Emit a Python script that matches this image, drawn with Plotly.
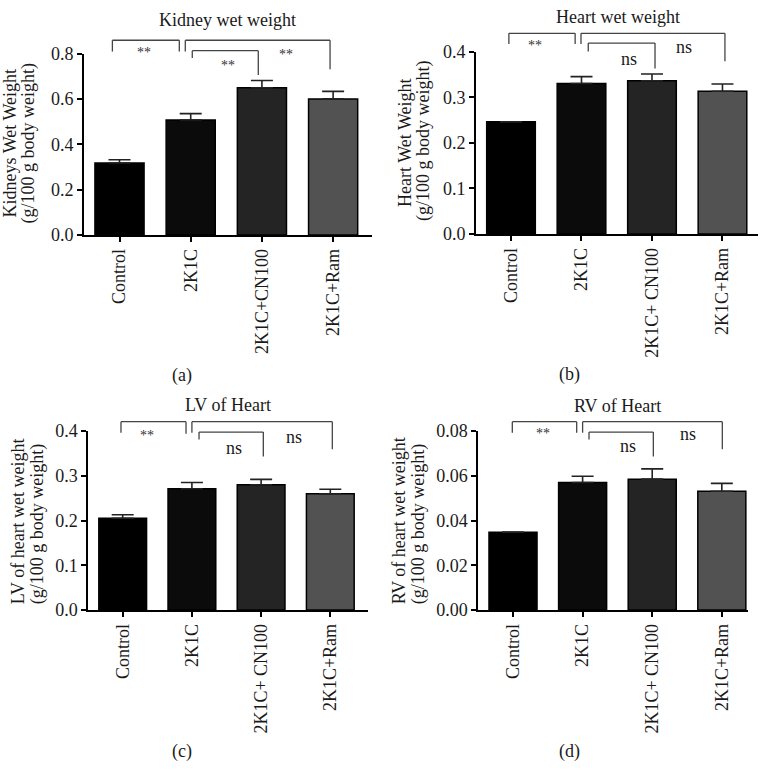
import plotly.graph_objects as go

# ---------------- data ----------------
categories_a = ["Control", "2K1C", "2K1C+CN100", "2K1C+Ram"]
categories_bcd = ["Control", "2K1C", "2K1C+ CN100", "2K1C+Ram"]

kidney_mean = [0.318, 0.508, 0.650, 0.601]
kidney_err = [0.014, 0.028, 0.032, 0.033]

heart_mean = [0.246, 0.330, 0.336, 0.313]
heart_err = [0.0, 0.015, 0.015, 0.016]

lv_mean = [0.205, 0.271, 0.280, 0.260]
lv_err = [0.008, 0.014, 0.012, 0.010]

rv_mean = [0.0348, 0.0570, 0.0585, 0.0531]
rv_err = [0.0, 0.0028, 0.0046, 0.0035]

bar_colors = ["#000000", "#0b0b0b", "#242424", "#525252"]

panel_titles = ["Kidney wet weight", "Heart wet weight", "LV of Heart", "RV of Heart"]
y_titles = [
    ["Kidneys Wet Weight", "(g/100 g body weight)"],
    ["Heart Wet Weight", "(g/100 g body weight)"],
    ["LV of heart wet weight", "(g/100 g body weight)"],
    ["RV of heart wet weight", "(g/100 g body weight)"],
]
panel_letters = ["(a)", "(b)", "(c)", "(d)"]
sig_labels = [["**", "**", "**"], ["**", "ns", "ns"], ["**", "ns", "ns"], ["**", "ns", "ns"]]

# ---------------- layout helpers ----------------
W, H = 760, 770
FONT = "Liberation Serif"
FS = 18
TXT = "#1a1a1a"

panels = [
    dict(cats=categories_a, mean=kidney_mean, err=kidney_err,
         xdom=(83.9, 372.0), ydom=(231.0, 45.0), xr=(-0.5, 3.546), yr=(0, 0.8), dtick=0.2, fmt=".1f",
         title=(227.7, 10.7), ytitle=((10, 137), (28, 137)), letter=(182, 375),
         brackets=[(-0.10, 0.84, 0.860, 0.810, 0.810), (0.924, 2.957, 0.860, 0.810, 0.732),
                   (1.022, 1.949, 0.814, 0.782, 0.706)],
         lab_pos=[(0.344, 0.821), (1.52, 0.762), (2.334, 0.810)]),
    dict(cats=categories_bcd, mean=heart_mean, err=heart_err,
         xdom=(475.75, 758.0), ydom=(230.0, 42.7), xr=(-0.5, 3.504), yr=(0, 0.4), dtick=0.1, fmt=".1f",
         title=(617.6, 7.3), ytitle=((405.5, 137), (423.5, 135)), letter=(569, 374),
         brackets=[(-0.03, 0.91, 0.440, 0.4164, 0.4164), (0.993, 3.035, 0.440, 0.4164, 0.3786),
                   (1.096, 2.043, 0.4186, 0.400, 0.363)],
         lab_pos=[(0.34, 0.421), (1.674, 0.384), (2.454, 0.410)]),
    dict(cats=categories_bcd, mean=lv_mean, err=lv_err,
         xdom=(88.1, 368.3), ydom=(616.0, 432.3), xr=(-0.5, 3.549), yr=(0, 0.4), dtick=0.1, fmt=".1f",
         title=(227.6, 406), ytitle=((18, 525), (37, 528)), letter=(181.7, 761.5),
         brackets=[(-0.025, 0.915, 0.4209, 0.3963, 0.394), (1.0, 3.029, 0.4209, 0.3963, 0.3593),
                   (1.103, 2.032, 0.3978, 0.381, 0.3434)],
         lab_pos=[(0.347, 0.396), (1.613, 0.3615), (2.48, 0.387)]),
    dict(cats=categories_bcd, mean=rv_mean, err=rv_err,
         xdom=(478.2, 748.0), ydom=(616.0, 432.3), xr=(-0.5, 3.376), yr=(0, 0.08), dtick=0.02, fmt=".2f",
         title=(617.5, 406.5), ytitle=((399, 525), (418, 528)), letter=(569.5, 761.7),
         brackets=[(-0.01, 0.915, 0.08418, 0.07926, 0.07926), (1.0, 3.007, 0.08418, 0.07926, 0.07186),
                   (1.092, 2.016, 0.07956, 0.07621, 0.06868)],
         lab_pos=[(0.427, 0.0803), (1.648, 0.0733), (2.519, 0.0788)]),
]

fig = go.Figure()
annotations = []
shapes = []

for i, p in enumerate(panels):
    n = "" if i == 0 else str(i + 1)
    xa, ya = "x" + n, "y" + n
    xs = list(range(len(p["cats"])))
    fig.add_trace(go.Bar(
        x=xs, y=p["mean"], xaxis=xa, yaxis=ya, width=0.69,
        marker=dict(color=bar_colors, line=dict(color="#000000", width=1.5)),
        error_y=dict(type="data", symmetric=False, array=p["err"], arrayminus=[0] * len(xs),
                     color="#222222", thickness=1.6, width=11),
        showlegend=False, hoverinfo="skip",
    ))
    axcommon = dict(showline=True, linecolor="#000000", linewidth=1.5, ticks="outside",
                    ticklen=5, tickwidth=1.5, tickcolor="#000000", showgrid=False, zeroline=False,
                    tickfont=dict(family=FONT, size=FS, color=TXT))
    fig.update_layout(**{
        ("xaxis" + n): dict(domain=[p["xdom"][0] / W, p["xdom"][1] / W], range=list(p["xr"]),
                            anchor=ya, tickvals=xs, ticktext=p["cats"], tickangle=-90, **axcommon),
        ("yaxis" + n): dict(domain=[1 - p["ydom"][0] / H, 1 - p["ydom"][1] / H], range=list(p["yr"]),
                            anchor=xa, dtick=p["dtick"], tickformat=p["fmt"], **axcommon),
    })

    def xd(v, p=p):
        return (v - p["xr"][0]) / (p["xr"][1] - p["xr"][0])

    def yd(v, p=p):
        return (v - p["yr"][0]) / (p["yr"][1] - p["yr"][0])

    for (xl, xr_, yt, yle, yre) in p["brackets"]:
        for (x0, y0, x1, y1) in [(xl, yle, xl, yt), (xl, yt, xr_, yt), (xr_, yt, xr_, yre)]:
            shapes.append(dict(type="line", xref=xa + " domain", yref=ya + " domain",
                               x0=xd(x0), y0=yd(y0), x1=xd(x1), y1=yd(y1),
                               line=dict(color="#444444", width=1.3)))
    for lab, (lx, ly) in zip(sig_labels[i], p["lab_pos"]):
        star = lab == "**"
        annotations.append(dict(text=lab, xref=xa + " domain", yref=ya + " domain",
                                x=xd(lx), y=yd(ly), showarrow=False, xanchor="center", yanchor="middle",
                                yshift=-3 if star else 0,
                                font=dict(family=FONT, size=14 if star else FS,
                                          color="#333333" if star else TXT)))

    annotations.append(dict(text=panel_titles[i], xref="paper", yref="paper",
                            x=p["title"][0] / W, y=1 - p["title"][1] / H, showarrow=False,
                            xanchor="center", yanchor="middle", font=dict(family=FONT, size=FS, color=TXT)))
    for line_text, (tx, ty) in zip(y_titles[i], p["ytitle"]):
        annotations.append(dict(text=line_text, xref="paper", yref="paper", textangle=-90,
                                x=tx / W, y=1 - ty / H, showarrow=False,
                                xanchor="center", yanchor="middle",
                                font=dict(family=FONT, size=FS, color=TXT)))
    annotations.append(dict(text=panel_letters[i], xref="paper", yref="paper",
                            x=p["letter"][0] / W, y=1 - p["letter"][1] / H, showarrow=False,
                            xanchor="center", yanchor="middle", font=dict(family=FONT, size=FS, color=TXT)))

fig.update_layout(
    width=W, height=H, margin=dict(l=0, r=0, t=0, b=0),
    paper_bgcolor="white", plot_bgcolor="white",
    annotations=annotations, shapes=shapes, bargap=0.3,
)

fig.write_html(
    "out.html",
    config={"displayModeBar": False},
    post_script="document.body.style.margin='0';document.body.style.padding='0';"
                "document.documentElement.style.overflow='hidden';",
)
